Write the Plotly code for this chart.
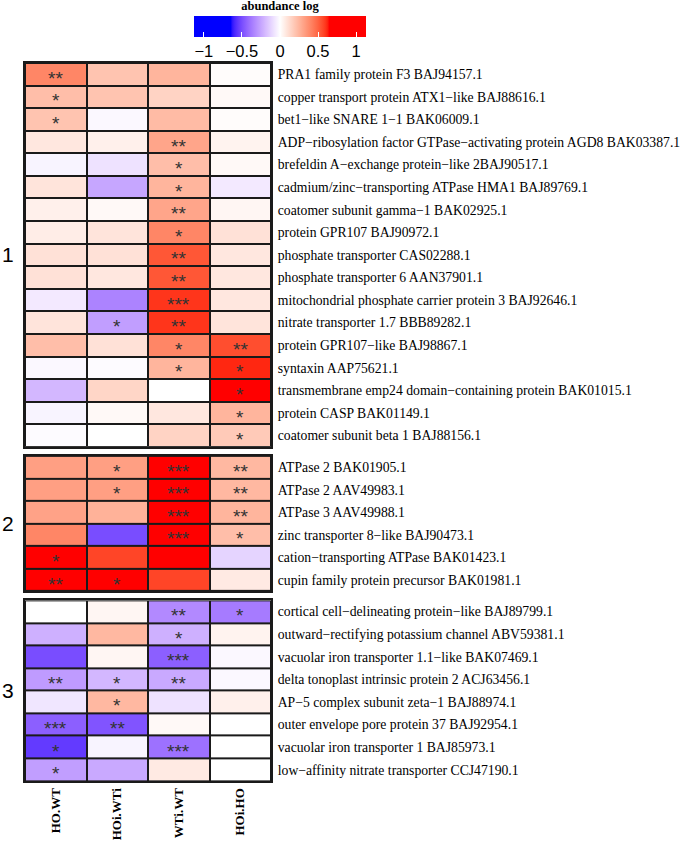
import numpy as np
import plotly.graph_objects as go
from plotly.subplots import make_subplots

columns = ["HO.WT", "HOi.WTi", "WTi.WT", "HOi.HO"]

group1_labels = [
    "PRA1 family protein F3 BAJ94157.1",
    "copper transport protein ATX1−like BAJ88616.1",
    "bet1−like SNARE 1−1 BAK06009.1",
    "ADP−ribosylation factor GTPase−activating protein AGD8 BAK03387.1",
    "brefeldin A−exchange protein−like 2BAJ90517.1",
    "cadmium/zinc−transporting ATPase HMA1 BAJ89769.1",
    "coatomer subunit gamma−1 BAK02925.1",
    "protein GPR107 BAJ90972.1",
    "phosphate transporter CAS02288.1",
    "phosphate transporter 6 AAN37901.1",
    "mitochondrial phosphate carrier protein 3 BAJ92646.1",
    "nitrate transporter 1.7 BBB89282.1",
    "protein GPR107−like BAJ98867.1",
    "syntaxin AAP75621.1",
    "transmembrane emp24 domain−containing protein BAK01015.1",
    "protein CASP BAK01149.1",
    "coatomer subunit beta 1 BAJ88156.1",
]
group1_values = [
    [0.40, 0.20, 0.25, 0.01],
    [0.22, 0.20, 0.15, 0.02],
    [0.20, -0.02, 0.23, 0.01],
    [0.08, 0.05, 0.30, 0.04],
    [-0.03, -0.08, 0.22, 0.02],
    [0.09, -0.25, 0.25, -0.06],
    [0.05, 0.02, 0.30, 0.03],
    [0.06, 0.09, 0.40, 0.10],
    [0.10, 0.10, 0.53, 0.08],
    [0.10, 0.08, 0.53, 0.08],
    [-0.06, -0.35, 0.60, 0.08],
    [0.09, -0.27, 0.60, 0.09],
    [0.22, 0.10, 0.40, 0.55],
    [-0.02, -0.01, 0.25, 0.62],
    [-0.20, 0.14, 0.00, 0.70],
    [-0.03, 0.02, 0.08, 0.25],
    [-0.01, 0.00, 0.15, 0.18],
]
group1_stars = [
    ["**", "", "", ""],
    ["*", "", "", ""],
    ["*", "", "", ""],
    ["", "", "**", ""],
    ["", "", "*", ""],
    ["", "", "*", ""],
    ["", "", "**", ""],
    ["", "", "*", ""],
    ["", "", "**", ""],
    ["", "", "**", ""],
    ["", "", "***", ""],
    ["", "*", "**", ""],
    ["", "", "*", "**"],
    ["", "", "*", "*"],
    ["", "", "", "*"],
    ["", "", "", "*"],
    ["", "", "", "*"],
]

group2_labels = [
    "ATPase 2 BAK01905.1",
    "ATPase 2 AAV49983.1",
    "ATPase 3 AAV49988.1",
    "zinc transporter 8−like BAJ90473.1",
    "cation−transporting ATPase BAK01423.1",
    "cupin family protein precursor BAK01981.1",
]
group2_values = [
    [0.32, 0.32, 0.90, 0.24],
    [0.32, 0.32, 0.90, 0.24],
    [0.31, 0.26, 0.90, 0.25],
    [0.40, -0.50, 0.90, 0.22],
    [0.80, 0.57, 0.85, -0.12],
    [0.85, 0.70, 0.57, 0.07],
]
group2_stars = [
    ["", "*", "***", "**"],
    ["", "*", "***", "**"],
    ["", "", "***", "**"],
    ["", "", "***", "*"],
    ["*", "", "", ""],
    ["**", "*", "", ""],
]

group3_labels = [
    "cortical cell−delineating protein−like BAJ89799.1",
    "outward−rectifying potassium channel ABV59381.1",
    "vacuolar iron transporter 1.1−like BAK07469.1",
    "delta tonoplast intrinsic protein 2 ACJ63456.1",
    "AP−5 complex subunit zeta−1 BAJ88974.1",
    "outer envelope pore protein 37 BAJ92954.1",
    "vacuolar iron transporter 1 BAJ85973.1",
    "low−affinity nitrate transporter CCJ47190.1",
]
group3_values = [
    [0.00, 0.03, -0.33, -0.37],
    [-0.22, 0.24, -0.22, 0.04],
    [-0.50, 0.03, -0.45, -0.02],
    [-0.28, -0.20, -0.24, -0.02],
    [-0.07, 0.24, -0.08, 0.05],
    [-0.45, -0.48, 0.02, 0.00],
    [-0.55, -0.03, -0.40, 0.00],
    [-0.27, -0.24, 0.07, 0.00],
]
group3_stars = [
    ["", "", "**", "*"],
    ["", "", "*", ""],
    ["", "", "***", ""],
    ["**", "*", "**", ""],
    ["", "*", "", ""],
    ["***", "**", "", ""],
    ["*", "", "***", ""],
    ["*", "", "", ""],
]

group_names = ["1", "2", "3"]
colorbar_ticks = [-1, -0.5, 0, 0.5, 1]

# ---- LAB-interpolated blue-white-red colour scale ----
def srgb_to_lab(rgb):
    c = np.array(rgb, dtype=float) / 255.0
    c = np.where(c <= 0.04045, c / 12.92, ((c + 0.055) / 1.055) ** 2.4)
    M = np.array([[0.4124564, 0.3575761, 0.1804375],
                  [0.2126729, 0.7151522, 0.0721750],
                  [0.0193339, 0.1191920, 0.9503041]])
    xyz = M @ c
    xyz = xyz / np.array([0.95047, 1.0, 1.08883])
    f = np.where(xyz > 216 / 24389, np.cbrt(xyz), (24389 / 27 * xyz + 16) / 116)
    return np.array([116 * f[1] - 16, 500 * (f[0] - f[1]), 200 * (f[1] - f[2])])

def lab_to_hex(lab):
    L, a, b = lab
    fy = (L + 16) / 116
    fx = fy + a / 500
    fz = fy - b / 200
    def finv(t):
        return t ** 3 if t ** 3 > 216 / 24389 else (116 * t - 16) / (24389 / 27)
    xyz = np.array([finv(fx), finv(fy), finv(fz)]) * np.array([0.95047, 1.0, 1.08883])
    Minv = np.array([[3.2404542, -1.5371385, -0.4985314],
                     [-0.9692660, 1.8760108, 0.0415560],
                     [0.0556434, -0.2040259, 1.0572252]])
    lin = np.clip(Minv @ xyz, 0, 1)
    s = np.where(lin <= 0.0031308, 12.92 * lin, 1.055 * lin ** (1 / 2.4) - 0.055)
    s = np.clip(np.round(s * 255), 0, 255).astype(int)
    return "#%02x%02x%02x" % tuple(s)

zmin, zmax, sat = -1.13, 1.13, 0.65
blue = srgb_to_lab((0, 0, 255))
white = srgb_to_lab((255, 255, 255))
red = srgb_to_lab((255, 0, 0))

def norm(v):
    return (v - zmin) / (zmax - zmin)

cscale = [[0.0, "#0000ff"]]
n = 24
for i in range(n + 1):
    t = i / n
    v = -sat + t * sat
    cscale.append([norm(v), lab_to_hex(blue + (white - blue) * t)])
for i in range(1, n + 1):
    t = i / n
    v = t * sat
    cscale.append([norm(v), lab_to_hex(white + (red - white) * t)])
cscale.append([1.0, "#ff0000"])

groups = [
    (group1_labels, group1_values, group1_stars),
    (group2_labels, group2_values, group2_stars),
    (group3_labels, group3_values, group3_stars),
]

# layout geometry (pixels)
W, H = 685, 851
L, R, T, B = 25, 271, 63, 781
pw, ph = R - L, B - T
gap = 9
fig = make_subplots(rows=3, cols=1, row_heights=[17, 6, 8],
                    vertical_spacing=gap / ph, shared_xaxes=True)

label_font = dict(family="Liberation Serif", size=13.7, color="black")

for gi, (labels, vals, stars) in enumerate(groups):
    fig.add_trace(go.Heatmap(
        z=vals, x=columns, y=labels,
        colorscale=cscale, zmin=zmin, zmax=zmax,
        xgap=2, ygap=2,
        showscale=(gi == 0),
        colorbar=dict(
            orientation="h",
            x=(280 - L) / pw, xanchor="center",
            y=1 + (T - 2) / ph, yanchor="top",
            lenmode="pixels", len=172, thickness=21, xpad=0, ypad=0,
            outlinewidth=0,
            tickvals=colorbar_ticks, ticks="inside", ticklen=5,
            tickcolor="white", tickwidth=1,
            tickfont=dict(family="Liberation Sans", size=16.5, color="black"),
            title=dict(text="<b>abundance log</b>", side="top",
                       font=dict(family="Liberation Serif", size=12.5, color="black")),
        ),
        hoverinfo="skip",
    ), row=gi + 1, col=1)
    xr = "x" if gi == 0 else "x%d" % (gi + 1)
    yr = "y" if gi == 0 else "y%d" % (gi + 1)
    for ri, row in enumerate(stars):
        for ci, s in enumerate(row):
            if s:
                fig.add_annotation(text=s, x=columns[ci], y=labels[ri],
                                   xref=xr, yref=yr, showarrow=False,
                                   yshift=-4,
                                   font=dict(family="Liberation Sans", size=19,
                                             color="#333333"))
    fig.update_yaxes(autorange=False, range=[len(labels) - 0.5, -0.5],
                     side="right", showgrid=False,
                     tickfont=label_font, ticks="", ticklabelstandoff=2,
                     showline=True, mirror=True, linecolor="#1a1a1a", linewidth=2,
                     row=gi + 1, col=1)
    fig.update_xaxes(autorange=False, range=[-0.5, len(columns) - 0.5],
                     showgrid=False, showline=True, mirror=True,
                     linecolor="#1a1a1a", linewidth=2, ticks="",
                     showticklabels=(gi == 2), row=gi + 1, col=1)
    fig.add_annotation(text=group_names[gi], xref="paper", yref=yr + " domain",
                       x=(8 - L) / pw, y=0.5, xanchor="center", yanchor="middle",
                       showarrow=False,
                       font=dict(family="Liberation Sans", size=21, color="black"))

fig.update_xaxes(tickangle=-90, tickvals=columns,
                 ticktext=["<b>%s</b>" % c for c in columns],
                 tickfont=dict(family="Liberation Serif", size=13, color="black"),
                 ticklabelstandoff=0, row=3, col=1)

fig.update_layout(
    width=W, height=H,
    margin=dict(l=L, r=W - R, t=T, b=H - B, autoexpand=False),
    plot_bgcolor="#1a1a1a", paper_bgcolor="white",
)

fig.write_html("out.html", config={"displayModeBar": False},
               post_script="document.body.style.margin='0px';")
